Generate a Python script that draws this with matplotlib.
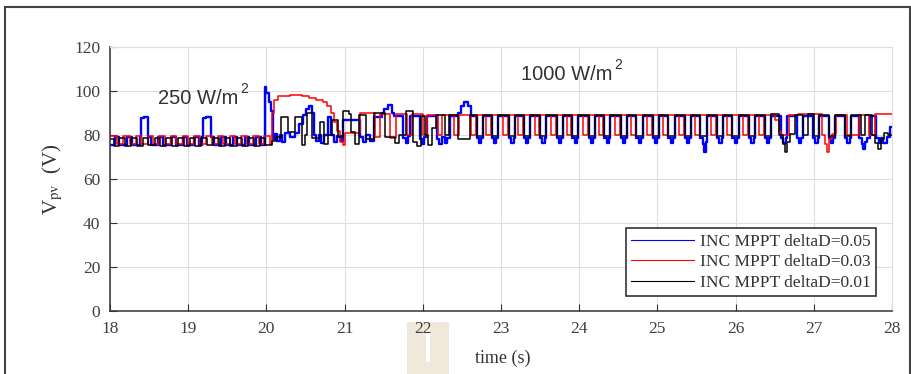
import matplotlib
matplotlib.use('Agg')
import matplotlib.pyplot as plt
from matplotlib.lines import Line2D
from matplotlib.patches import Rectangle

plt.rcParams['font.family'] = ['Liberation Serif', 'DejaVu Serif']
plt.rcParams['mathtext.fontset'] = 'stix'

# ---- data: (time, Vpv) breakpoints, drawn as steps ----
# INC MPPT deltaD=0.05
blue = [
    (18.00, 75.5), (18.06, 79.0), (18.12, 75.5), (18.22, 79.0), (18.28, 75.5),
    (18.38, 79.0), (18.40, 87.5), (18.44, 88.0), (18.49, 79.0), (18.53, 75.5),
    (18.62, 79.0), (18.68, 75.5), (18.78, 79.0), (18.84, 75.5), (18.93, 79.0),
    (18.99, 75.5), (19.08, 79.0), (19.14, 75.5), (19.18, 79.0), (19.19, 87.5),
    (19.23, 88.0), (19.29, 79.0), (19.33, 75.5), (19.42, 79.0), (19.48, 75.5),
    (19.57, 79.0), (19.63, 75.5), (19.72, 79.0), (19.78, 75.5), (19.87, 79.0),
    (19.93, 75.5), (19.98, 102.0), (20.00, 99.0), (20.03, 95.0), (20.06, 91.0),
    (20.08, 78.0), (20.11, 80.5), (20.14, 77.5), (20.17, 80.0), (20.20, 77.0),
    (20.24, 81.0), (20.30, 79.0), (20.36, 81.0), (20.42, 85.0), (20.47, 89.0),
    (20.50, 92.0), (20.54, 93.0), (20.58, 90.0), (20.61, 80.0), (20.64, 77.5),
    (20.67, 80.0), (20.70, 76.5), (20.74, 80.0), (20.79, 88.0), (20.83, 80.0),
    (20.86, 77.0), (20.90, 79.5), (20.95, 77.5), (20.98, 87.0), (21.20, 79.0),
    (21.23, 77.0), (21.27, 80.0), (21.32, 77.5), (21.38, 88.0), (21.48, 90.0),
    (21.51, 92.0), (21.55, 93.5), (21.60, 90.0), (21.63, 88.5), (21.75, 78.5),
    (21.78, 76.5), (21.81, 79.5), (21.84, 88.5), (21.96, 78.0), (21.99, 76.0),
    (22.02, 79.0), (22.06, 88.5), (22.18, 78.0), (22.21, 76.0), (22.25, 79.0),
    (22.28, 76.5), (22.31, 78.5), (22.35, 88.5), (22.45, 90.0), (22.49, 93.0),
    (22.53, 95.0), (22.58, 93.0), (22.62, 88.5),
    (22.69, 78.5), (22.72, 76.5), (22.75, 78.5), (22.77, 88.5),
    (22.88, 78.5), (22.91, 76.5), (22.94, 78.5), (22.96, 88.5),
    (23.10, 78.5), (23.13, 76.5), (23.16, 78.5), (23.18, 88.5),
    (23.29, 78.5), (23.32, 76.5), (23.35, 78.5), (23.37, 88.5),
    (23.50, 78.5), (23.53, 76.5), (23.56, 78.5), (23.58, 88.5),
    (23.71, 78.5), (23.74, 76.5), (23.77, 78.5), (23.79, 88.5),
    (23.91, 78.5), (23.94, 76.5), (23.97, 78.5), (23.99, 88.5),
    (24.12, 78.5), (24.15, 76.5), (24.18, 78.5), (24.20, 88.5),
    (24.32, 78.5), (24.35, 76.5), (24.38, 78.5), (24.40, 88.5),
    (24.53, 78.5), (24.56, 76.5), (24.59, 78.5), (24.61, 88.5),
    (24.73, 78.5), (24.76, 76.5), (24.79, 78.5), (24.81, 88.5),
    (24.94, 78.5), (24.97, 76.5), (25.00, 78.5), (25.02, 88.5),
    (25.14, 78.5), (25.17, 76.5), (25.20, 78.5), (25.22, 88.5),
    (25.35, 78.5), (25.38, 76.5), (25.41, 78.5), (25.43, 88.5),
    (25.55, 78.5), (25.58, 76.0), (25.60, 72.5), (25.62, 77.0), (25.64, 88.5),
    (25.76, 78.5), (25.79, 76.5), (25.82, 78.5), (25.84, 88.5),
    (25.96, 78.5), (25.99, 76.5), (26.02, 78.5), (26.04, 88.5),
    (26.17, 78.5), (26.20, 76.5), (26.23, 78.5), (26.25, 88.5),
    (26.37, 78.5), (26.40, 76.5), (26.43, 78.5), (26.45, 88.5),
    (26.58, 78.5), (26.61, 76.5), (26.64, 78.5), (26.66, 88.5),
    (26.78, 78.5), (26.81, 76.5), (26.84, 78.5), (26.86, 88.5),
    (26.99, 78.5), (27.02, 76.5), (27.05, 78.5), (27.07, 88.5),
    (27.19, 78.5), (27.22, 76.5), (27.25, 78.5), (27.27, 88.5),
    (27.40, 78.5), (27.43, 76.5), (27.46, 78.5), (27.48, 88.5),
    (27.58, 78.5), (27.61, 76.0), (27.63, 73.5), (27.65, 77.0), (27.68, 78.5),
    (27.72, 88.5),
    (27.80, 78.5), (27.83, 76.5), (27.86, 78.5), (27.89, 76.5), (27.93, 79.0),
    (27.97, 83.5), (28.00, 83.5),
]

# INC MPPT deltaD=0.03
red = [
    (18.00, 79.5), (18.09, 76.0), (18.17, 79.5), (18.25, 76.0), (18.33, 79.5),
    (18.40, 76.0), (18.48, 79.5), (18.55, 76.0), (18.63, 79.5), (18.70, 76.0),
    (18.78, 79.5), (18.85, 76.0), (18.93, 79.5), (19.00, 76.0), (19.08, 79.5),
    (19.15, 76.0), (19.23, 79.5), (19.30, 76.0), (19.38, 79.5), (19.45, 76.0),
    (19.53, 79.5), (19.60, 76.0), (19.68, 79.5), (19.75, 76.0), (19.83, 79.5),
    (19.90, 76.0), (19.97, 79.5), (20.04, 76.0), (20.07, 90.0), (20.10, 96.0),
    (20.15, 97.5), (20.30, 98.0), (20.45, 97.5), (20.55, 97.0), (20.64, 96.0),
    (20.72, 95.0), (20.78, 93.0), (20.83, 90.0), (20.87, 86.0), (20.90, 82.0),
    (20.94, 77.0), (20.98, 75.5), (21.00, 81.0), (21.20, 90.0), (21.39, 79.0),
    (21.45, 89.5), (21.58, 78.5), (21.66, 89.5), (21.80, 80.0), (21.86, 89.5),
    (22.00, 80.0), (22.06, 89.0), (22.19, 80.0), (22.25, 89.0), (22.40, 80.0),
    (22.46, 89.0), (22.62, 80.0), (22.68, 89.0), (22.81, 80.0), (22.87, 89.0),
    (23.03, 80.0), (23.09, 89.0), (23.22, 80.0), (23.28, 89.0), (23.43, 80.0),
    (23.49, 89.0), (23.64, 80.0), (23.70, 89.0), (23.84, 80.0), (23.90, 89.0),
    (24.05, 80.0), (24.11, 89.0), (24.25, 80.0), (24.31, 89.0), (24.46, 80.0),
    (24.52, 89.0), (24.66, 80.0), (24.72, 89.0), (24.87, 80.0), (24.93, 89.0),
    (25.07, 80.0), (25.13, 89.0), (25.28, 80.0), (25.34, 89.0), (25.48, 80.0),
    (25.54, 89.0), (25.69, 80.0), (25.75, 89.0), (25.89, 80.0), (25.95, 89.0),
    (26.10, 80.0), (26.16, 89.0), (26.30, 80.0), (26.36, 89.0), (26.50, 87.0),
    (26.55, 82.0), (26.58, 80.0), (26.68, 89.0), (26.80, 89.5), (27.10, 80.0),
    (27.14, 76.0), (27.17, 72.5), (27.20, 78.0), (27.23, 80.5), (27.28, 89.0),
    (27.42, 80.0), (27.58, 89.0), (27.70, 80.0), (27.78, 89.5), (28.00, 89.5),
]

# INC MPPT deltaD=0.01
black = [
    (18.00, 78.0), (18.05, 75.0), (18.12, 78.5), (18.19, 75.0), (18.27, 78.5),
    (18.34, 75.0), (18.42, 78.5), (18.49, 75.5), (18.57, 78.5), (18.64, 75.0),
    (18.72, 78.5), (18.79, 75.0), (18.87, 78.5), (18.94, 75.0), (19.02, 78.5),
    (19.09, 75.0), (19.17, 78.5), (19.24, 75.5), (19.32, 78.5), (19.39, 75.0),
    (19.47, 78.5), (19.54, 75.0), (19.62, 78.5), (19.69, 75.0), (19.77, 78.5),
    (19.84, 75.0), (19.92, 78.5), (19.98, 75.5), (20.07, 77.5), (20.12, 79.0),
    (20.19, 88.0), (20.28, 81.5), (20.36, 88.0), (20.45, 75.5), (20.49, 80.0),
    (20.52, 90.0), (20.58, 78.5), (20.68, 86.0), (20.74, 76.0), (20.79, 80.0),
    (20.84, 87.0), (20.92, 79.0), (20.98, 91.0), (21.05, 89.5), (21.08, 81.5),
    (21.13, 76.0), (21.19, 89.0), (21.27, 78.0), (21.38, 90.0), (21.52, 79.0),
    (21.64, 76.5), (21.70, 80.0), (21.78, 91.0), (21.87, 77.0), (21.93, 75.0),
    (21.98, 88.5), (22.03, 80.0), (22.07, 75.5), (22.12, 83.0), (22.17, 89.0),
    (22.28, 80.0), (22.34, 89.0), (22.45, 78.0), (22.60, 89.0), (22.69, 79.5),
    (22.77, 89.0), (22.88, 79.5), (22.96, 89.0), (23.10, 79.5), (23.18, 89.0),
    (23.29, 79.5), (23.37, 89.0), (23.50, 79.5), (23.58, 89.0), (23.71, 79.5),
    (23.79, 89.0), (23.91, 79.5), (23.99, 89.0), (24.12, 79.5), (24.20, 89.0),
    (24.32, 79.5), (24.40, 89.0), (24.53, 79.5), (24.61, 89.0), (24.73, 79.5),
    (24.81, 89.0), (24.94, 79.5), (25.02, 89.0), (25.14, 79.5), (25.22, 89.0),
    (25.35, 79.5), (25.43, 89.0), (25.55, 79.5), (25.63, 89.0), (25.76, 79.5),
    (25.84, 89.0), (25.96, 79.5), (26.04, 89.0), (26.17, 79.5), (26.25, 89.0),
    (26.37, 79.5), (26.45, 89.5), (26.56, 80.0), (26.60, 76.0), (26.63, 72.5),
    (26.66, 77.0), (26.70, 80.5), (26.76, 89.0), (26.86, 80.0), (26.92, 89.5),
    (27.00, 79.5), (27.07, 89.0), (27.19, 79.5), (27.27, 89.0), (27.40, 79.5),
    (27.48, 89.0), (27.60, 80.0), (27.66, 89.0), (27.74, 80.0), (27.78, 76.5),
    (27.82, 73.5), (27.86, 78.0), (27.90, 81.0), (27.95, 80.0), (28.00, 80.0),
]

labels = ['INC MPPT deltaD=0.05', 'INC MPPT deltaD=0.03', 'INC MPPT deltaD=0.01']
colors = ['#0000ff', '#ff0000', '#000000']
widths = [1.7, 1.1, 1.1]
xticks = list(range(18, 29))
yticks = list(range(0, 121, 20))

fig = plt.figure(figsize=(9.12, 3.74), dpi=100)
fig.patch.set_facecolor('white')

# outer frame and the beige marker under the x axis
fig.patches.append(Rectangle((5/912, -0.1), 905/912, 1.1 - 7/374, transform=fig.transFigure,
                             fill=False, edgecolor='#444444', lw=1.5, zorder=-2))
fig.patches.append(Rectangle((407/912, 0), 42/912, 52/374, transform=fig.transFigure,
                             facecolor='#f0e8da', edgecolor='none', zorder=-1))
fig.patches.append(Rectangle((426/912, 12/374), 4/912, 32/374, transform=fig.transFigure,
                             facecolor='white', edgecolor='none', zorder=-1))

ax = fig.add_axes([110/912, 63/374, 782/912, 264/374])

for series, c, w in zip([blue, red, black], colors, widths):
    t, v = zip(*series)
    ax.plot(t, v, drawstyle='steps-post', color=c, lw=w)

ax.set_xlim(18, 28)
ax.set_ylim(0, 120)
ax.set_xticks(xticks)
ax.set_yticks(yticks)
ax.grid(color='#dedede', lw=0.8)
ax.set_axisbelow(True)
ax.tick_params(direction='in', length=5, color='#333333', labelcolor='#404040',
               labelsize=12.5, pad=7)
for s in ['top', 'right']:
    ax.spines[s].set_color('#dedede')
for s in ['left', 'bottom']:
    ax.spines[s].set_color('#333333')
    ax.spines[s].set_linewidth(1.1)

ax.set_xlabel('time (s)', fontsize=13, color='#333333')
ax.xaxis.set_label_coords(0.5026, -0.145)
ax.set_ylabel(r'V$_{\rm pv}$  (V)', fontsize=15, color='#333333')
ax.yaxis.set_label_coords(-0.058, 0.5)

# irradiance annotations
for x0, y0, s in [(18.62, 94.0, '250 W/m'), (23.26, 105.0, '1000 W/m')]:
    t1 = ax.text(x0, y0, s, fontsize=14.5, family='Liberation Sans', color='#333333')
    ax.annotate('2', xy=(1.0, 0.62), xycoords=t1, xytext=(1, 0), textcoords='offset points',
                fontsize=10, family='Liberation Sans', color='#333333', va='bottom')

handles = [Line2D([], [], color=c, lw=0.8) for c in colors]
leg = ax.legend(handles, labels, loc='lower right', bbox_to_anchor=(0.9795, 0.0568),
                borderaxespad=0, fontsize=12.5, handlelength=3.6, handletextpad=0.35,
                labelspacing=0.25, borderpad=0.3, fancybox=False, framealpha=1,
                edgecolor='#333333')
leg.get_frame().set_linewidth(1.2)
for txt in leg.get_texts():
    txt.set_color('#333333')

fig.savefig('out.png', dpi=100)
